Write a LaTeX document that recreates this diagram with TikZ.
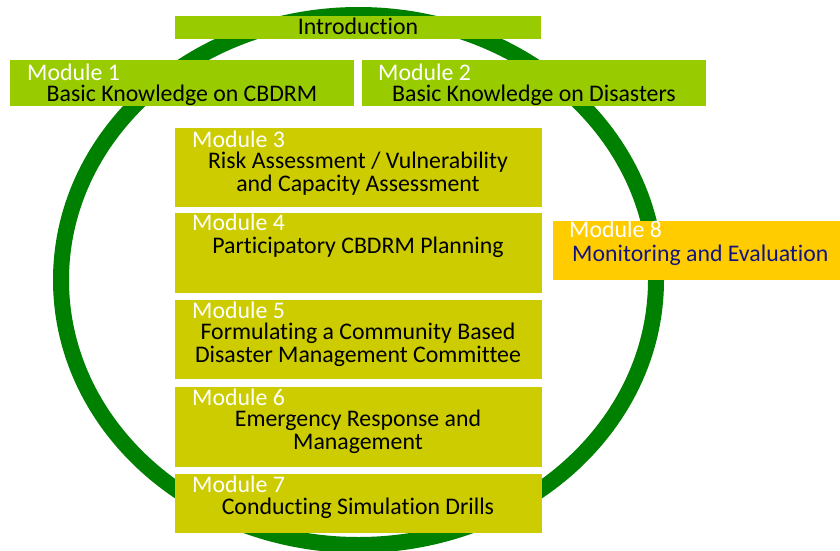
\documentclass[tikz,border=0pt]{standalone}
\usepackage{fontspec}
\setmainfont{Carlito}[Ligatures=NoCommon]
\usetikzlibrary{calc}
\definecolor{ringgreen}{RGB}{0,128,0}
\definecolor{modlime}{RGB}{153,204,0}
\definecolor{modolive}{RGB}{204,204,0}
\definecolor{modgold}{RGB}{255,204,0}
\definecolor{evalblue}{RGB}{20,20,128}

\begin{document}
\begin{tikzpicture}[x=1pt, y=-1pt, line join=round,
  box/.style={anchor=north west, inner sep=0, outer sep=0, fill=#1},
  title/.style={anchor=base west, inner sep=0, text=white},
  body/.style={anchor=base, inner sep=0, align=center},
  every node/.style={font=\fontsize{23.8}{22.5}\selectfont}]
\useasboundingbox (0,0) rectangle (840,551);
% ring behind the modules
\draw[ringgreen, line width=16] (358.5,280) ellipse [x radius=297.5, y radius=265];
% boxes
\node[box=modlime,  minimum width=366, minimum height=23] (intro) at (175,16)  {};
\node[box=modlime,  minimum width=344, minimum height=46] (m1)    at (10,60)   {};
\node[box=modlime,  minimum width=344, minimum height=46] (m2)    at (362,60)  {};
\node[box=modolive, minimum width=367, minimum height=79] (m3)    at (175,128) {};
\node[box=modolive, minimum width=367, minimum height=80] (m4)    at (175,213) {};
\node[box=modolive, minimum width=367, minimum height=79] (m5)    at (175,300) {};
\node[box=modolive, minimum width=367, minimum height=80] (m6)    at (175,387) {};
\node[box=modolive, minimum width=367, minimum height=59] (m7)    at (175,474) {};
\node[box=modgold,  minimum width=287, minimum height=59] (m8)    at (553,221) {};
% texts (base of a two-line body is its last line)
\node[body] (introtxt) at (358,35) {Introduction};
\node[title] (m1t) at (27,80)   {Module 1};
\node[body]  (m1b) at (182,101) {Basic Knowledge on CBDRM};
\node[title] (m2t) at (378,80)  {Module 2};
\node[body]  (m2b) at (534,101) {Basic Knowledge on Disasters};
\node[title] (m3t) at (192,147) {Module 3};
\node[body]  (m3b) at (358,191) {Risk Assessment / Vulnerability\\and Capacity Assessment};
\node[title] (m4t) at (192,230) {Module 4};
\node[body]  (m4b) at (358,253) {Participatory CBDRM Planning};
\node[title] (m5t) at (192,318) {Module 5};
\node[body]  (m5b) at (358,362) {Formulating a Community Based\\Disaster Management Committee};
\node[title] (m6t) at (192,405) {Module 6};
\node[body]  (m6b) at (358,449) {Emergency Response and\\Management};
\node[title] (m7t) at (192,492) {Module 7};
\node[body]  (m7b) at (358,514) {Conducting Simulation Drills};
\node[title] (m8t) at (569,237) {Module 8};
\node[body, anchor=base west, text=evalblue] (m8b) at (572,261) {Monitoring and Evaluation};
\end{tikzpicture}
\end{document}
